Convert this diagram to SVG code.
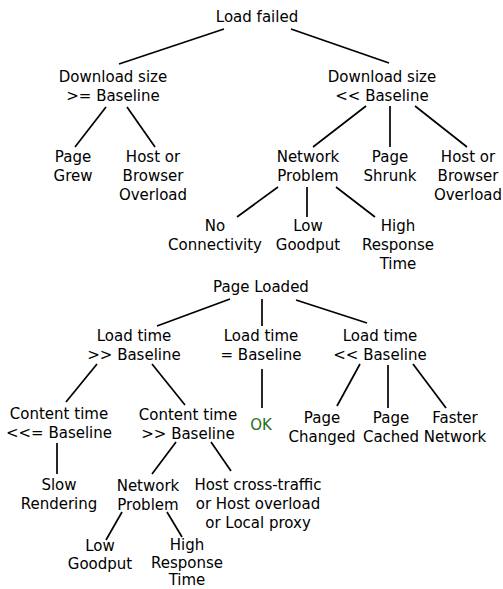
<svg xmlns="http://www.w3.org/2000/svg" width="503" height="589" viewBox="0 0 503 589">
<style>
text{font-family:"DejaVu Sans","Liberation Sans",sans-serif;font-size:15px;fill:#000;text-anchor:middle}
.ok{fill:#2a6e1c}
line{stroke:#000;stroke-width:1.7}
</style>
<rect width="503" height="589" fill="#fff"/>
<g id="connectors">
<line x1="224" y1="29" x2="119" y2="64"/>
<line x1="291" y1="29" x2="389" y2="63"/>
<line x1="106" y1="107" x2="75" y2="147"/>
<line x1="127" y1="107" x2="155" y2="147"/>
<line x1="366" y1="106" x2="313" y2="147"/>
<line x1="390" y1="106" x2="390" y2="147"/>
<line x1="415" y1="106" x2="467" y2="147"/>
<line x1="278" y1="187" x2="237" y2="217"/>
<line x1="307" y1="187" x2="307" y2="217"/>
<line x1="336" y1="187" x2="375" y2="217"/>
<line x1="230" y1="299" x2="157" y2="326"/>
<line x1="262" y1="299" x2="262" y2="326"/>
<line x1="296" y1="300" x2="367" y2="323"/>
<line x1="97" y1="364" x2="66" y2="402"/>
<line x1="152" y1="364" x2="185" y2="405"/>
<line x1="262" y1="369" x2="262" y2="408"/>
<line x1="360" y1="364" x2="337" y2="406"/>
<line x1="388" y1="365" x2="388" y2="408"/>
<line x1="413" y1="364" x2="446" y2="408"/>
<line x1="57" y1="443" x2="57" y2="474"/>
<line x1="176" y1="442" x2="152" y2="474"/>
<line x1="211" y1="442" x2="231" y2="471"/>
<line x1="122" y1="512" x2="106" y2="540"/>
<line x1="167" y1="512" x2="182" y2="537"/>
</g>
<g id="load-failed"><text x="257" y="22">Load failed</text></g>
<g id="ds-ge"><text x="113" y="82">Download size</text><text x="113" y="101">&gt;= Baseline</text></g>
<g id="ds-ll"><text x="382" y="82">Download size</text><text x="382" y="101">&lt;&lt; Baseline</text></g>
<g id="page-grew"><text x="73" y="162">Page</text><text x="73" y="181">Grew</text></g>
<g id="overload-1"><text x="153" y="162">Host or</text><text x="153" y="181">Browser</text><text x="153" y="200">Overload</text></g>
<g id="net-1"><text x="308" y="162">Network</text><text x="308" y="181">Problem</text></g>
<g id="page-shrunk"><text x="390" y="162">Page</text><text x="390" y="181">Shrunk</text></g>
<g id="overload-2"><text x="468" y="162">Host or</text><text x="468" y="181">Browser</text><text x="468" y="200">Overload</text></g>
<g id="no-conn"><text x="215" y="231">No</text><text x="215" y="250">Connectivity</text></g>
<g id="low-goodput-1"><text x="308" y="231">Low</text><text x="308" y="250">Goodput</text></g>
<g id="high-rt-1"><text x="398" y="231">High</text><text x="398" y="250">Response</text><text x="398" y="269">Time</text></g>
<g id="page-loaded"><text x="261" y="292">Page Loaded</text></g>
<g id="lt-gg"><text x="134" y="341">Load time</text><text x="134" y="360">&gt;&gt; Baseline</text></g>
<g id="lt-eq"><text x="261" y="341">Load time</text><text x="261" y="360">= Baseline</text></g>
<g id="lt-ll"><text x="380" y="341">Load time</text><text x="380" y="360">&lt;&lt; Baseline</text></g>
<g id="ct-le"><text x="59" y="419">Content time</text><text x="59" y="438">&lt;&lt;= Baseline</text></g>
<g id="ct-gg"><text x="188" y="420">Content time</text><text x="188" y="439">&gt;&gt; Baseline</text></g>
<g id="ok"><text class="ok" x="261" y="430">OK</text></g>
<g id="page-changed"><text x="322" y="423">Page</text><text x="322" y="442">Changed</text></g>
<g id="page-cached"><text x="391" y="423">Page</text><text x="391" y="442">Cached</text></g>
<g id="faster-net"><text x="455" y="423">Faster</text><text x="455" y="442">Network</text></g>
<g id="slow-render"><text x="59" y="490">Slow</text><text x="59" y="509">Rendering</text></g>
<g id="net-2"><text x="148" y="491">Network</text><text x="148" y="510">Problem</text></g>
<g id="host-cross"><text x="258" y="490">Host cross-traffic</text><text x="258" y="509">or Host overload</text><text x="258" y="528">or Local proxy</text></g>
<g id="low-goodput-2"><text x="100" y="551">Low</text><text x="100" y="569">Goodput</text></g>
<g id="high-rt-2"><text x="187" y="550">High</text><text x="187" y="568">Response</text><text x="187" y="585">Time</text></g>
</svg>
